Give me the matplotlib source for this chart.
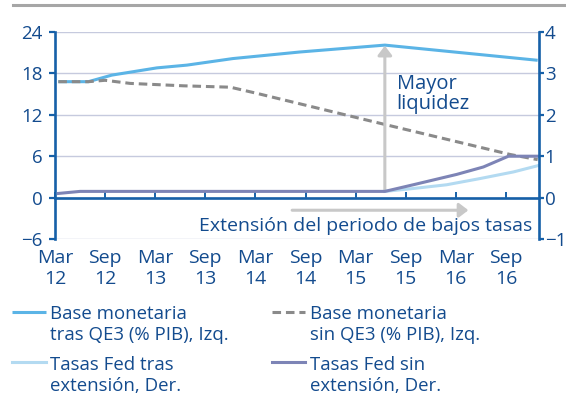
import matplotlib
matplotlib.use('Agg')
import matplotlib.pyplot as plt
from matplotlib.lines import Line2D

plt.rcParams['font.family'] = ['Open Sans', 'DejaVu Sans']

# months counted from Mar 2012
base_x = [0.4, 4.0, 6.8, 12.2, 15.8, 21.3, 29.3, 39.5, 57.8]
base_tras_qe3 = [16.8, 16.8, 17.75, 18.8, 19.2, 20.15, 21.1, 22.1, 19.9]

sin_x = [0.4, 4.0, 6.0, 9.0, 15.4, 21.0, 24.2, 29.3, 39.5, 54.5, 57.8]
base_sin_qe3 = [16.8, 16.8, 17.0, 16.55, 16.2, 16.0, 15.1, 13.6, 10.6, 6.25, 5.5]

tasas_sin_x = [0.4, 3.0, 39.5, 42.9, 48.1, 51.3, 54.3, 57.8]
tasas_sin_ext = [0.1, 0.15, 0.15, 0.31, 0.56, 0.74, 1.0, 1.0]

tasas_tras_x = [39.5, 42.9, 46.9, 50.9, 54.9, 57.8]
tasas_tras_ext = [0.15, 0.22, 0.31, 0.46, 0.62, 0.77]

xtick_pos = [0, 6, 12, 18, 24, 30, 36, 42, 48, 54]
xtick_labels = ['Mar\n12', 'Sep\n12', 'Mar\n13', 'Sep\n13', 'Mar\n14',
                'Sep\n14', 'Mar\n15', 'Sep\n15', 'Mar\n16', 'Sep\n16']
left_ticks = [-6, 0, 6, 12, 18, 24]
right_ticks = [-1, 0, 1, 2, 3, 4]

txt_blue = '#134b8e'
ax_blue = '#1660a8'
grid_col = '#c6cade'

fig = plt.figure(figsize=(5.66, 4.0), dpi=100)
ax = fig.add_axes([55/566, 1-239/400, 483.5/566, 207/400])
ax2 = ax.twinx()

ax.set_xlim(0, 57.9)
ax.set_ylim(-6, 24)
ax2.set_ylim(-1, 4)

ax.set_yticks(left_ticks)
ax2.set_yticks(right_ticks)
ax.set_xticks(xtick_pos)
ax.set_xticklabels(xtick_labels)
for lab in ax.get_xticklabels():
    lab.set_linespacing(1.05)

ax.yaxis.grid(True, color=grid_col, lw=1.0)
ax.set_axisbelow(True)

# spines
for s in ['top', 'right']:
    ax.spines[s].set_visible(False)
for s in ['top', 'left', 'bottom']:
    ax2.spines[s].set_visible(False)
ax.spines['left'].set_color(ax_blue)
ax.spines['left'].set_linewidth(1.9)
ax2.spines['right'].set_color(ax_blue)
ax2.spines['right'].set_linewidth(1.9)
ax.spines['bottom'].set_position(('data', 0))
ax.spines['bottom'].set_color(ax_blue)
ax.spines['bottom'].set_linewidth(1.9)

ax.tick_params(axis='y', direction='out', length=4, width=1.6, color=ax_blue,
               labelcolor=txt_blue, labelsize=13.5, pad=5)
ax2.tick_params(axis='y', direction='out', length=3.5, width=1.6, color=ax_blue,
                labelcolor=txt_blue, labelsize=13.5, pad=1)
ax.tick_params(axis='x', direction='in', length=4, width=1.4, color=ax_blue,
               labelcolor=txt_blue, labelsize=14, pad=37)

# series
l1, = ax.plot(base_x, base_tras_qe3, color='#5bb4e6', lw=2.2, solid_capstyle='butt')
l2, = ax.plot(sin_x, base_sin_qe3, color='#8a8a8a', lw=2.2, dashes=(2.8, 1.6))
l3, = ax2.plot(tasas_tras_x, tasas_tras_ext, color='#b3daf1', lw=2.2)
l4, = ax2.plot(tasas_sin_x, tasas_sin_ext, color='#7d84b6', lw=2.2)

# annotations
ax.annotate('', xy=(39.5, 22.0), xytext=(39.5, 0.9),
            arrowprops=dict(arrowstyle='-|>,head_length=0.55,head_width=0.42',
                            color='#c8c8c8', lw=2.2, shrinkA=0, shrinkB=0))
ax.annotate('', xy=(49.5, -1.83), xytext=(28.4, -1.83),
            arrowprops=dict(arrowstyle='-|>,head_length=0.55,head_width=0.42',
                            color='#c8c8c8', lw=2.2, shrinkA=0, shrinkB=0))
ax.text(40.9, 17.9, 'Mayor\nliquidez', ha='left', va='top', fontsize=14.5,
        color=txt_blue, linespacing=1.0)
ax.text(57.1, -4.86, 'Extensión del periodo de bajos tasas', ha='right',
        va='baseline', fontsize=14, color=txt_blue)

# top rule
fig.add_artist(Line2D([13/566, 1], [1-5/400, 1-5/400], transform=fig.transFigure,
                      color='#a6a6a6', lw=2.2))

# legends, one per column
leg_kw = dict(loc='upper left', frameon=False, fontsize=13.4, borderpad=0,
              borderaxespad=0, handlelength=1.8, handletextpad=0.25,
              labelspacing=0.62, labelcolor=txt_blue)
leg1 = fig.legend([l1, l3], ['Base monetaria\ntras QE3 (% PIB), Izq.',
                             'Tasas Fed tras\nextensión, Der.'],
                  bbox_to_anchor=(12.3/566, 1-305/400), **leg_kw)
leg2 = fig.legend([l2, l4], ['Base monetaria\nsin QE3 (% PIB), Izq.',
                             'Tasas Fed sin\nextensión, Der.'],
                  bbox_to_anchor=(271.7/566, 1-305/400), **leg_kw)
for leg in (leg1, leg2):
    for t in leg.get_texts():
        t.set_linespacing(1.22)
    for col in leg._legend_handle_box.get_children():
        for row in col.get_children():
            row.align = 'top'

fig.savefig('out.png', dpi=100)
